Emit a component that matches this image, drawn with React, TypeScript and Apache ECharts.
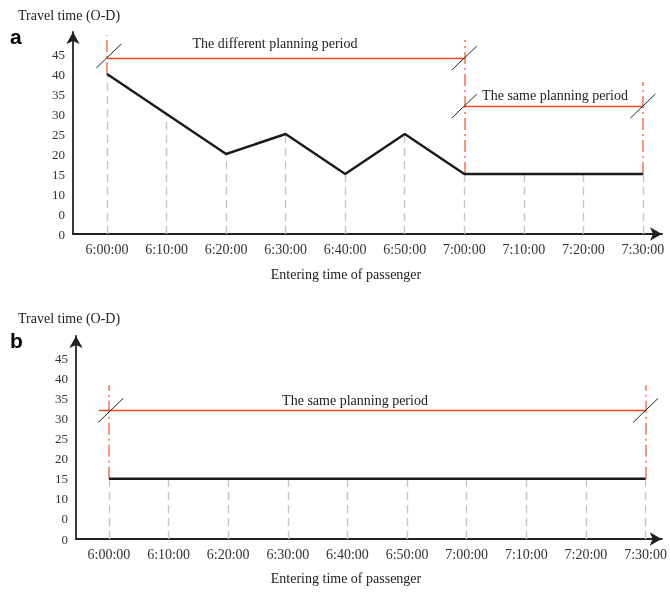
import React, { useEffect, useRef } from "react";
import * as echarts from "echarts";

const timeLabels = ["6:00:00", "6:10:00", "6:20:00", "6:30:00", "6:40:00", "6:50:00", "7:00:00", "7:10:00", "7:20:00", "7:30:00"];
const minutes = [0, 10, 20, 30, 40, 50, 60, 70, 80, 90];
const yTickValues = [0, 5, 10, 15, 20, 25, 30, 35, 40, 45];
const yTickLabels = ["0", "0", "10", "15", "20", "25", "30", "35", "40", "45"];
const travelA = [40, 30, 20, 25, 15, 25, 15, 15, 15, 15];
const travelB = [15, 15, 15, 15, 15, 15, 15, 15, 15, 15];

// planning periods: [start minute, end minute, level]
const periodsA = [
  { start: 0, end: 60, level: 44, label: "The different planning period" },
  { start: 60, end: 90, level: 32, label: "The same planning period" },
];
const periodsB = [{ start: -1.7, end: 90, level: 32, label: "The same planning period" }];
// boundary dash-dot lines: [minute, from value, to value]
const boundariesA = [
  [0, 40, 49.7],
  [60, 15, 48.5],
  [90, 15, 38],
];
const boundariesB = [
  [0, 15, 38.3],
  [90, 15, 38.3],
];
// slash marks: [minute, value]
const slashesA = [
  [0.3, 44.5],
  [60, 44],
  [60, 32],
  [90, 32],
];
const slashesB = [
  [0.3, 32],
  [90, 32],
];

const RED = "#EC4A22";
const RED_DASH = "#F07858";
const GREY = "#C6C6C6";
const FONT = "'Liberation Serif', 'Times New Roman', serif";

function dropLines(values: number[]) {
  return minutes.map((m, i) => [
    { coord: [m, 0] },
    { coord: [m, values[i]] },
  ]);
}

function panelSeries(idx: number, values: number[], periods: any[], bounds: number[][], slashes: number[][]) {
  const line = {
    type: "line",
    xAxisIndex: idx,
    yAxisIndex: idx,
    data: minutes.map((m, i) => [m, values[i]]),
    symbol: "none",
    lineStyle: { color: "#1a1a1a", width: 2.4 },
    z: 5,
    markLine: {
      silent: true,
      symbol: "none",
      label: { show: false },
      lineStyle: { color: GREY, type: [8, 5], width: 1.4 },
      data: dropLines(values),
      z: 2,
    },
  };
  const marks = {
    type: "line",
    xAxisIndex: idx,
    yAxisIndex: idx,
    data: [],
    z: 4,
    markLine: {
      silent: true,
      symbol: "none",
      label: { show: false },
      data: [
        ...bounds.map((b) => [
          { coord: [b[0], b[1]], lineStyle: { color: RED_DASH, type: [12, 4, 2, 4], width: 1.5 } },
          { coord: [b[0], b[2]] },
        ]),
        ...periods.map((p) => [
          { coord: [p.start, p.level], lineStyle: { color: RED, type: "solid", width: 1.3 } },
          { coord: [p.end, p.level] },
        ]),
        ...slashes.map((s) => [
          { coord: [s[0] - 2.1, s[1] - 3], lineStyle: { color: "#222", type: "solid", width: 1 } },
          { coord: [s[0] + 2.1, s[1] + 3] },
        ]),
      ],
    },
  };
  return [line, marks];
}

export default function App() {
  const ref = useRef<HTMLDivElement>(null);
  useEffect(() => {
    const chart = echarts.init(ref.current!, null, { renderer: "svg" });
    const axisLine = {
      show: true,
      onZero: false,
      lineStyle: { color: "#222", width: 1.8 },
      symbol: ["none", "arrow"],
      symbolSize: [10, 12],
    };
    const xAxis = (gi: number, min: number, max: number) => ({
      type: "value",
      gridIndex: gi,
      min,
      max,
      axisLine,
      axisTick: { show: false },
      splitLine: { show: false },
      axisLabel: {
        customValues: minutes,
        margin: 8,
        color: "#333",
        fontFamily: FONT,
        fontSize: 14,
        formatter: (v: number) => timeLabels[minutes.indexOf(Math.round(v))] ?? "",
      },
    });
    const yAxis = (gi: number) => ({
      type: "value",
      gridIndex: gi,
      min: 0,
      max: 50.5,
      axisLine,
      axisTick: { show: false },
      splitLine: { show: false },
      axisLabel: {
        customValues: yTickValues,
        margin: 8,
        color: "#333",
        fontFamily: FONT,
        fontSize: 13,
        formatter: (v: number) => yTickLabels[yTickValues.indexOf(Math.round(v))] ?? "",
      },
    });
    const txt = (text: string, x: number, y: number, extra: any = {}) => ({
      type: "text",
      x,
      y,
      style: {
        text,
        fill: "#222",
        font: `14px ${FONT}`,
        textAlign: "center",
        textVerticalAlign: "middle",
        ...extra,
      },
    });
    chart.setOption({
      animation: false,
      grid: [
        { left: 73, top: 32, width: 589, height: 202 },
        { left: 76, top: 336, width: 586, height: 203 },
      ],
      xAxis: [xAxis(0, -5.71, 93.2), xAxis(1, -5.53, 92.7)],
      yAxis: [yAxis(0), yAxis(1)],
      series: [
        ...panelSeries(0, travelA, periodsA, boundariesA, slashesA),
        ...panelSeries(1, travelB, periodsB, boundariesB, slashesB),
      ],
      graphic: [
        txt("Travel time (O-D)", 18, 15, { textAlign: "left" }),
        txt("a", 10, 36, { textAlign: "left", font: "bold 21px 'Liberation Sans', Arial, sans-serif", fill: "#000" }),
        txt("Entering time of passenger", 346, 274),
        txt(periodsA[0].label, 275, 43),
        txt(periodsA[1].label, 555, 95),
        txt("Travel time (O-D)", 18, 318, { textAlign: "left" }),
        txt("b", 10, 340, { textAlign: "left", font: "bold 21px 'Liberation Sans', Arial, sans-serif", fill: "#000" }),
        txt("Entering time of passenger", 346, 578),
        txt(periodsB[0].label, 355, 400),
      ],
    });
    return () => chart.dispose();
  }, []);
  return <div ref={ref} style={{ width: 670, height: 592, position: "fixed", left: 0, top: 0 }} />;
}
